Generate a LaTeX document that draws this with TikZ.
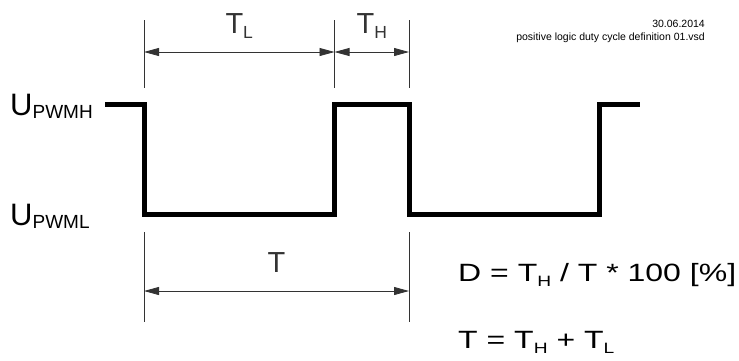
\documentclass[tikz,border=0pt]{standalone}
\usepackage{fontspec}
\setmainfont{Liberation Sans}
\usetikzlibrary{arrows.meta}

\newcommand{\lowsub}[3]{\raisebox{-#1pt}{\fontsize{#2}{#2}\selectfont #3}}
\newcommand{\wideeq}[1]{\scalebox{1.28}[1]{#1}}

\tikzset{
  signal/.style={line width=5pt,line join=miter,black},
  extline/.style={line width=0.8pt,black!80},
  dimline/.style={line width=0.8pt,black!80,{Triangle[length=15pt,width=8pt]}-{Triangle[length=15pt,width=8pt]}},
  biglabel/.style={font=\fontsize{29}{34}\selectfont,inner sep=0pt,anchor=base},
  levellabel/.style={font=\fontsize{31}{36}\selectfont,inner sep=0pt,anchor=base west},
  eqlabel/.style={font=\fontsize{25}{30}\selectfont,inner sep=0pt,anchor=base west},
  stamp/.style={font=\fontsize{10.5}{12}\selectfont,inner sep=0pt,anchor=base east},
}

\begin{document}
\begin{tikzpicture}[x=1pt,y=-1pt]
\useasboundingbox (0,0) rectangle (739,360);

% PWM signal
\draw[signal] (105,104.5) -- (144,104.5) -- (144,214.5) -- (334.5,214.5) -- (334.5,104.5)
  -- (409,104.5) -- (409,214.5) -- (599.5,214.5) -- (599.5,104.5) -- (640,104.5);

% extension lines
\draw[extline] (144,20) -- (144,88);
\draw[extline] (334.5,20) -- (334.5,88);
\draw[extline] (409,20) -- (409,88);
\draw[extline] (144,232) -- (144,322);
\draw[extline] (409,232) -- (409,322);

% dimension arrows
\coordinate (lowstart) at (144,52);
\coordinate (highstart) at (334.5,52);
\coordinate (highend) at (409,52);
\coordinate (perstart) at (144,291);
\coordinate (perend) at (409,291);
\draw[dimline] (lowstart) -- (highstart) node[midway,biglabel,yshift=19pt] (tlow) {T\lowsub{5}{17.5}{L}};
\draw[dimline] (highstart) -- (highend) node[midway,biglabel,yshift=19pt] (thigh) {T\lowsub{5}{17.5}{H}};
\draw[dimline] (perstart) -- (perend) node[midway,biglabel,yshift=19pt] (tper) {T};

% levels
\node[levellabel] (uhigh) at (10,115) {U\lowsub{3}{19}{PWMH}};
\node[levellabel] (ulow) at (10,225) {U\lowsub{3}{19}{PWML}};

% formulas
\node[eqlabel] (duty) at (458,281) {\wideeq{D = T\lowsub{5}{15}{H} / T * 100 [\%]}};
\node[eqlabel] (period) at (458,348) {\wideeq{T = T\lowsub{5}{15}{H} + T\lowsub{5}{15}{L}}};

% file stamp
\node[stamp] (date) at (705,27) {30.06.2014};
\node[stamp] (fname) at (705,40) {positive logic duty cycle definition 01.vsd};
\end{tikzpicture}
\end{document}
